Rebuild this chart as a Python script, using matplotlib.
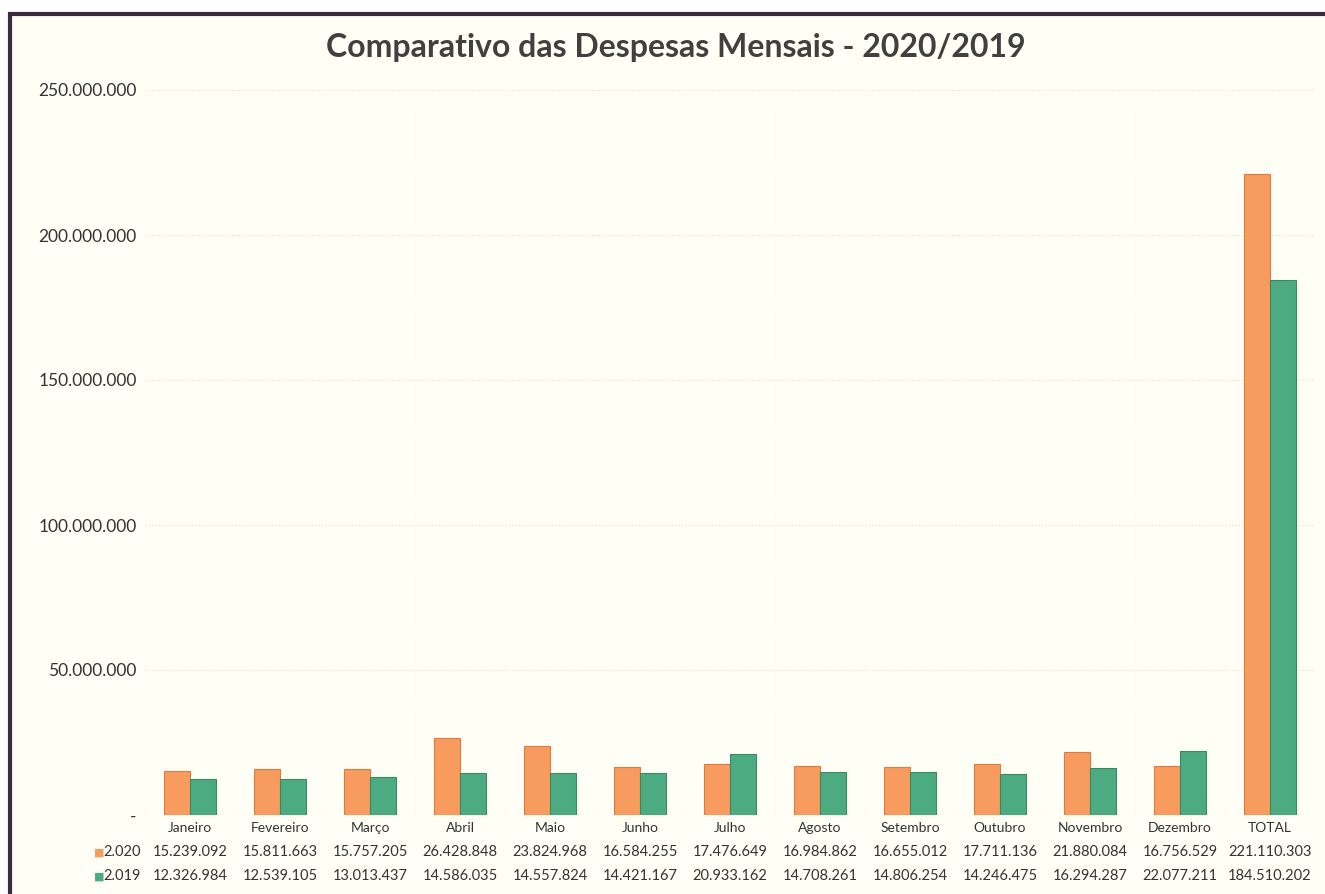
import numpy as np
import matplotlib
matplotlib.use("Agg")
import matplotlib.pyplot as plt
from matplotlib.patches import Rectangle
from matplotlib.transforms import blended_transform_factory

# dados do grafico
meses = ["Janeiro", "Fevereiro", "Março", "Abril", "Maio", "Junho", "Julho",
         "Agosto", "Setembro", "Outubro", "Novembro", "Dezembro", "TOTAL"]
desp_2020 = [15239092, 15811663, 15757205, 26428848, 23824968, 16584255, 17476649,
             16984862, 16655012, 17711136, 21880084, 16756529, 221110303]
desp_2019 = [12326984, 12539105, 13013437, 14586035, 14557824, 14421167, 20933162,
             14708261, 14806254, 14246475, 16294287, 22077211, 184510202]
series_labels = ["2.020", "2.019"]
y_ticks = [0, 50000000, 100000000, 150000000, 200000000, 250000000]

cor_2020 = "#F89B5F"
cor_2019 = "#4DAB82"
bg = "#FFFFF6"
txt = "#333333"


def fmt(v):
    return f"{v:,.0f}".replace(",", ".")


plt.rcParams["font.family"] = ["Lato", "DejaVu Sans"]

fig = plt.figure(figsize=(13.25, 8.94), dpi=100, facecolor="white")
# moldura escura do grafico
fig.patches.append(Rectangle((10 / 1325, -0.05), 1.2, 1 - 14 / 894 + 0.05,
                             transform=fig.transFigure, facecolor=bg,
                             edgecolor="#3a2c3c", linewidth=3, zorder=-5))

ax = fig.add_axes([145 / 1325, 1 - 815 / 894, 1170 / 1325, 725 / 894])
ax.set_facecolor(bg)
ax.patch.set_alpha(0)

x = np.arange(len(meses))
w = 0.29
ax.bar(x - w / 2, desp_2020, w, color=cor_2020, edgecolor="#e07a3e", linewidth=0.8, zorder=3)
ax.bar(x + w / 2, desp_2019, w, color=cor_2019, edgecolor="#378a64", linewidth=0.8, zorder=3)

ax.set_xlim(-0.5, len(meses) - 0.5)
ax.set_ylim(0, 250000000)
ax.set_yticks(y_ticks)
ax.set_yticklabels(["-"] + [fmt(v) for v in y_ticks[1:]], fontsize=12.5, color=txt)
ax.tick_params(axis="y", length=0, pad=6)
ax.set_xticks([])
ax.grid(axis="y", color="#dcdcd2", linestyle=(0, (1, 2)), linewidth=0.8, zorder=0)
for s in ax.spines.values():
    s.set_visible(False)
ax.axhline(0, color="#d0d0c8", linewidth=0.8, linestyle=(0, (1, 2)))
for i in range(len(meses) + 1):
    ax.axvline(i - 0.5, color="#efefe6", linewidth=0.5, linestyle=(0, (1, 3)), zorder=0)

# tabela de dados abaixo do eixo
tr = blended_transform_factory(ax.transData, ax.transAxes)
rows_y = [-13 / 725, -37 / 725, -61 / 725]
for i, m in enumerate(meses):
    ax.text(i, rows_y[0], m, transform=tr, ha="center", va="center", fontsize=10, color=txt)
    ax.text(i, rows_y[1], fmt(desp_2020[i]), transform=tr, ha="center", va="center", fontsize=10.5, color=txt)
    ax.text(i, rows_y[2], fmt(desp_2019[i]), transform=tr, ha="center", va="center", fontsize=10.5, color=txt)

for lab, cor, yy in zip(series_labels, [cor_2020, cor_2019], rows_y[1:]):
    ax.text(-0.96, yy, lab, transform=tr, ha="left", va="center", fontsize=10.5, color=txt)
    ax.text(-1.01, yy, "■", transform=tr, ha="center", va="center", fontsize=8, color=cor)

fig.text(676 / 1325, 1 - 48 / 894, "Comparativo das Despesas Mensais - 2020/2019",
         ha="center", va="center", fontsize=23, fontweight="bold", color="#404040")

fig.savefig("out.png", dpi=100, facecolor=fig.get_facecolor())
